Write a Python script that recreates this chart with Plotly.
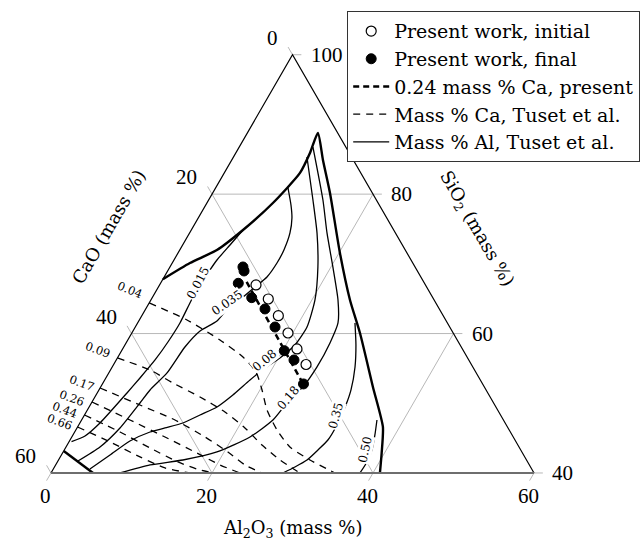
import numpy as np
import plotly.graph_objects as go

# ---------------- data (mass %), CaO = 100 - SiO2 - Al2O3 ----------------
initial_sio2 = [66.97, 64.96, 62.56, 60.08, 57.79, 55.56]
initial_al2o3 = [11.98, 14.51, 16.96, 19.40, 21.66, 23.90]

final_sio2 = [69.55, 68.98, 67.21, 65.15, 63.53, 60.94, 57.54, 56.21, 52.77]
final_al2o3 = [9.07, 9.49, 9.66, 12.36, 14.82, 17.36, 20.21, 22.08, 24.98]

ca024_sio2 = [67.4, 52.6]
ca024_al2o3 = [10.6, 25.1]

# phase boundary (thick lines)
bound_sio2 = [67.8, 70.12, 71.99, 74.86, 78.73, 83.04, 85.9, 88.77, 84.9, 80.17,
              71.56, 64.82, 60.08, 52.34, 46.6, 42.87, 40.0]
bound_al2o3 = [0.0, 2.20, 4.62, 6.42, 8.20, 9.41, 9.22, 8.77, 11.33, 14.57,
               20.11, 24.73, 28.34, 33.82, 37.93, 39.64, 40.86]
corner_sio2 = [43.16, 40.0]
corner_al2o3 = [0.0, 5.22]

# Al iso-concentration lines (Tuset et al.)
al_labels = ["0.015", "0.035", "0.08", "0.18", "0.35", "0.50"]
al_015_sio2 = [74.86, 72.71, 70.55, 69.12, 65.25, 61.52, 58.79, 56.21, 53.63, 51.48, 47.17, 45.31, 44.5]
al_015_al2o3 = [6.42, 5.88, 5.34, 5.19, 5.02, 5.26, 5.13, 4.82, 4.24, 3.70, 2.50, 1.57, 0.3]
al_035_sio2 = [80.88, 78.44, 76.58, 74.43, 71.99, 70.12, 68.12, 66.68, 65.25, 63.96, 61.80,
               60.37, 58.07, 54.35, 51.91, 50.04, 46.46, 43.73, 41.72]
al_035_al2o3 = [9.0, 10.59, 11.64, 12.47, 12.94, 13.01, 12.77, 12.0, 11.23, 10.25, 9.72,
                8.33, 7.60, 7.24, 6.35, 6.03, 5.34, 4.22, 2.49]
al_08_sio2 = [85.33, 79.16, 74.43, 69.55, 64.82, 60.94, 58.36, 56.50, 55.06, 53.34, 51.19,
              49.47, 48.32, 47.17, 46.46, 45.88, 44.59, 42.58, 40.57]
al_08_al2o3 = [9.13, 12.96, 15.83, 18.38, 20.38, 21.33, 21.12, 20.19, 19.05, 18.05, 17.0,
               15.89, 14.35, 12.80, 10.93, 9.36, 7.51, 6.04, 4.55]
al_18_sio2 = [86.76, 79.16, 74.43, 69.55, 64.82, 61.52, 58.65, 55.21, 52.34, 50.04, 47.60,
              45.16, 43.01, 41.86, 41.15, 40.0]
al_18_al2o3 = [9.16, 14.2, 17.07, 20.24, 23.24, 24.89, 25.33, 25.44, 25.13, 24.29, 23.77,
               22.14, 19.11, 15.46, 11.73, 8.57]
al_35_sio2 = [61.52, 58.36, 55.21, 51.91, 49.75, 46.89, 44.73, 43.30, 41.86, 40.86, 40.0]
al_35_al2o3 = [27.0, 28.70, 30.16, 31.31, 31.76, 32.08, 32.03, 31.51, 30.87, 29.87, 28.81]
al_50_sio2 = [47.60, 45.45, 43.30, 41.58, 40.0]
al_50_al2o3 = [36.69, 37.51, 38.22, 38.46, 38.38]

# Ca iso-concentration lines (Tuset et al.)
ca_labels = ["0.04", "0.09", "0.17", "0.26", "0.44", "0.66"]
ca_04_sio2 = [64.39, 61.95, 59.08, 56.64, 54.49, 51.91, 49.04, 46.17, 43.73, 41.86, 40.0]
ca_04_al2o3 = [0.0, 5.92, 11.45, 15.53, 18.22, 20.26, 22.31, 24.99, 27.81, 31.24, 35.27]
ca_09_sio2 = [56.50, 54.78, 52.91, 50.90, 48.75, 46.46, 44.02, 41.86, 40.0]
ca_09_al2o3 = [0.0, 4.91, 8.69, 13.06, 17.23, 20.86, 24.20, 27.51, 30.93]
ca_17_sio2 = [52.19, 49.75, 47.60, 45.16, 43.01, 41.15, 40.0]
ca_17_al2o3 = [0.0, 6.17, 11.60, 16.55, 20.47, 23.52, 26.21]
ca_26_sio2 = [50.18, 47.60, 45.16, 43.01, 41.15, 40.0]
ca_26_al2o3 = [0.0, 6.01, 11.58, 16.37, 20.42, 23.47]
ca_44_sio2 = [48.32, 45.88, 43.59, 41.58, 40.43, 40.0]
ca_44_al2o3 = [0.0, 5.63, 10.51, 14.98, 18.29, 20.37]
ca_66_sio2 = [46.6, 44.45, 42.30, 40.72, 40.0]
ca_66_al2o3 = [0.0, 5.11, 9.90, 13.80, 17.26]

cao_ticks = [0, 20, 40, 60]
al2o3_ticks = [0, 20, 40, 60]
sio2_ticks = [100, 80, 60, 40]

# ---------------- helpers ----------------
R3 = np.sqrt(3) / 2


def xy(sio2, al2o3):
    s = np.asarray(sio2, dtype=float)
    a = np.asarray(al2o3, dtype=float)
    return a + s / 2, s * R3


FONT = "Liberation Serif"
FONT2 = "DejaVu Serif"
fig = go.Figure()


def line(s, a, width=1.2, dash="solid", color="black", name=None, show=False, rank=None):
    x, y = xy(s, a)
    fig.add_trace(go.Scatter(x=x, y=y, mode="lines", hoverinfo="skip",
                             line=dict(color=color, width=width, dash=dash, shape="spline", smoothing=0.6),
                             name=name, showlegend=show, legendrank=rank))


# grid + ticks
T = 1.1
gx, gy = [], []
segs = []
for s in [60, 80]:
    segs.append(([s, s], [0, 100 - s + T]))
for c in [20, 40]:
    segs.append(([100 - c + T, 40], [-T, 60 - c]))
for a in [20, 40]:
    segs.append(([40 - T, 100 - a], [a, a]))
segs += [([100, 100 + T], [0, -T]), ([40, 40 + T], [0, -T]),
         ([40, 40 - T], [0, 0]), ([40, 40 - T], [60, 60]),
         ([100, 100], [0, T]), ([40, 40], [60, 60 + T])]
for s, a in segs:
    x, y = xy(s, a)
    gx += list(x) + [None]
    gy += list(y) + [None]
fig.add_trace(go.Scatter(x=gx, y=gy, mode="lines", line=dict(color="#b8b8b8", width=1),
                         hoverinfo="skip", showlegend=False))

# Ca lines (thin dashed)
ca_lines = [(ca_04_sio2, ca_04_al2o3), (ca_09_sio2, ca_09_al2o3), (ca_17_sio2, ca_17_al2o3),
            (ca_26_sio2, ca_26_al2o3), (ca_44_sio2, ca_44_al2o3), (ca_66_sio2, ca_66_al2o3)]
for i, (s, a) in enumerate(ca_lines):
    line(s, a, width=1.3, dash="7px,6px", name="Mass % Ca, Tuset et al.", show=(i == 0), rank=4)

# Al lines (thin solid)
al_lines = [(al_015_sio2, al_015_al2o3), (al_035_sio2, al_035_al2o3), (al_08_sio2, al_08_al2o3),
            (al_18_sio2, al_18_al2o3), (al_35_sio2, al_35_al2o3), (al_50_sio2, al_50_al2o3)]
for i, (s, a) in enumerate(al_lines):
    line(s, a, width=1.3, name="Mass % Al, Tuset et al.", show=(i == 0), rank=5)

# boundaries (thick)
line(bound_sio2, bound_al2o3, width=2.4)
line(corner_sio2, corner_al2o3, width=2.4)

# triangle edges
ex, ey = xy([40, 100, 40], [0, 0, 60])
fig.add_trace(go.Scatter(x=ex, y=ey, mode="lines", line=dict(color="black", width=1.2),
                         hoverinfo="skip", showlegend=False))
bx, by = xy([40, 40], [0, 60])
fig.add_trace(go.Scatter(x=bx, y=by, mode="lines", line=dict(color="#6e6e6e", width=2),
                         hoverinfo="skip", showlegend=False))

# present work 0.24 % Ca (thick dashed)
line(ca024_sio2, ca024_al2o3, width=2.5, dash="6px,4px", name="0.24 mass % Ca, present", show=True, rank=3)

# points
x, y = xy(initial_sio2, initial_al2o3)
fig.add_trace(go.Scatter(x=x, y=y, mode="markers", name="Present work, initial", legendrank=1,
                         marker=dict(symbol="circle", size=10, color="white",
                                     line=dict(color="black", width=1.2)),
                         hoverinfo="skip"))
x, y = xy(final_sio2, final_al2o3)
fig.add_trace(go.Scatter(x=x, y=y, mode="markers", name="Present work, final", legendrank=2,
                         marker=dict(symbol="circle", size=10, color="black",
                                     line=dict(color="black", width=1)),
                         hoverinfo="skip"))

ann = []
# tick labels
for c in cao_ticks:
    x, y = xy(100 - c, 0)
    ann.append(dict(x=float(x), y=float(y), text=str(c), xanchor="right", yanchor="middle",
                    xshift=-13, yshift=17, showarrow=False, font=dict(size=21)))
for a in al2o3_ticks:
    x, y = xy(40, a)
    ann.append(dict(x=float(x), y=float(y), text=str(a), xanchor="center", yanchor="middle",
                    xshift=-6, yshift=-23, showarrow=False, font=dict(size=21)))
for s in sio2_ticks:
    x, y = xy(s, 100 - s)
    ann.append(dict(x=float(x), y=float(y), text=str(s), xanchor="left", yanchor="middle",
                    xshift=16, yshift=0, showarrow=False, font=dict(size=21)))

# axis titles
tf = dict(family=FONT2, size=18)
ann.append(dict(x=27.2, y=65.2, text="CaO (mass %)", textangle=-60, showarrow=False, font=tf))
ann.append(dict(x=72.8, y=64.9, text="SiO<sub>2</sub> (mass %)", textangle=60, showarrow=False, font=tf))
ann.append(dict(x=49.94, y=27.7, text="Al<sub>2</sub>O<sub>3</sub> (mass %)", showarrow=False, font=tf))

# contour labels
lf = dict(family=FONT2, size=12)
al_pos = [(38.26, 58.24, -62), (41.83, 55.76, -35), (46.58, 48.68, -40),
          (49.44, 43.96, -50), (55.40, 41.84, -75), (59.01, 37.50, -78)]
for t, (x, y, ang) in zip(al_labels, al_pos):
    ann.append(dict(x=x, y=y, text=t, textangle=ang, showarrow=False, bgcolor="white",
                    borderpad=0, font=lf))
ca_pos = [(29.81, 57.37, 22), (25.84, 49.92, 20), (23.81, 45.82, 20),
          (22.57, 43.96, 20), (21.74, 42.47, 20), (21.12, 41.01, 20)]
for t, (x, y, ang) in zip(ca_labels, ca_pos):
    ann.append(dict(x=x, y=y, text=t, textangle=ang, showarrow=False, font=dict(family=FONT2, size=11.5)))

fig.update_layout(
    width=641, height=541, margin=dict(l=0, r=0, t=0, b=0),
    paper_bgcolor="white", plot_bgcolor="white",
    font=dict(family=FONT, color="black", size=20),
    xaxis=dict(range=[13.665, 93.29], visible=False, fixedrange=True),
    yaxis=dict(range=[26.19, 93.40], visible=False, fixedrange=True),
    annotations=ann,
    showlegend=True,
    legend=dict(x=347 / 641, y=1 - 11 / 541, xanchor="left", yanchor="top",
                bgcolor="white", bordercolor="#333333", borderwidth=1.2,
                font=dict(family=FONT2, size=19), itemwidth=36, tracegroupgap=0),
)
fig.write_html("out.html")
